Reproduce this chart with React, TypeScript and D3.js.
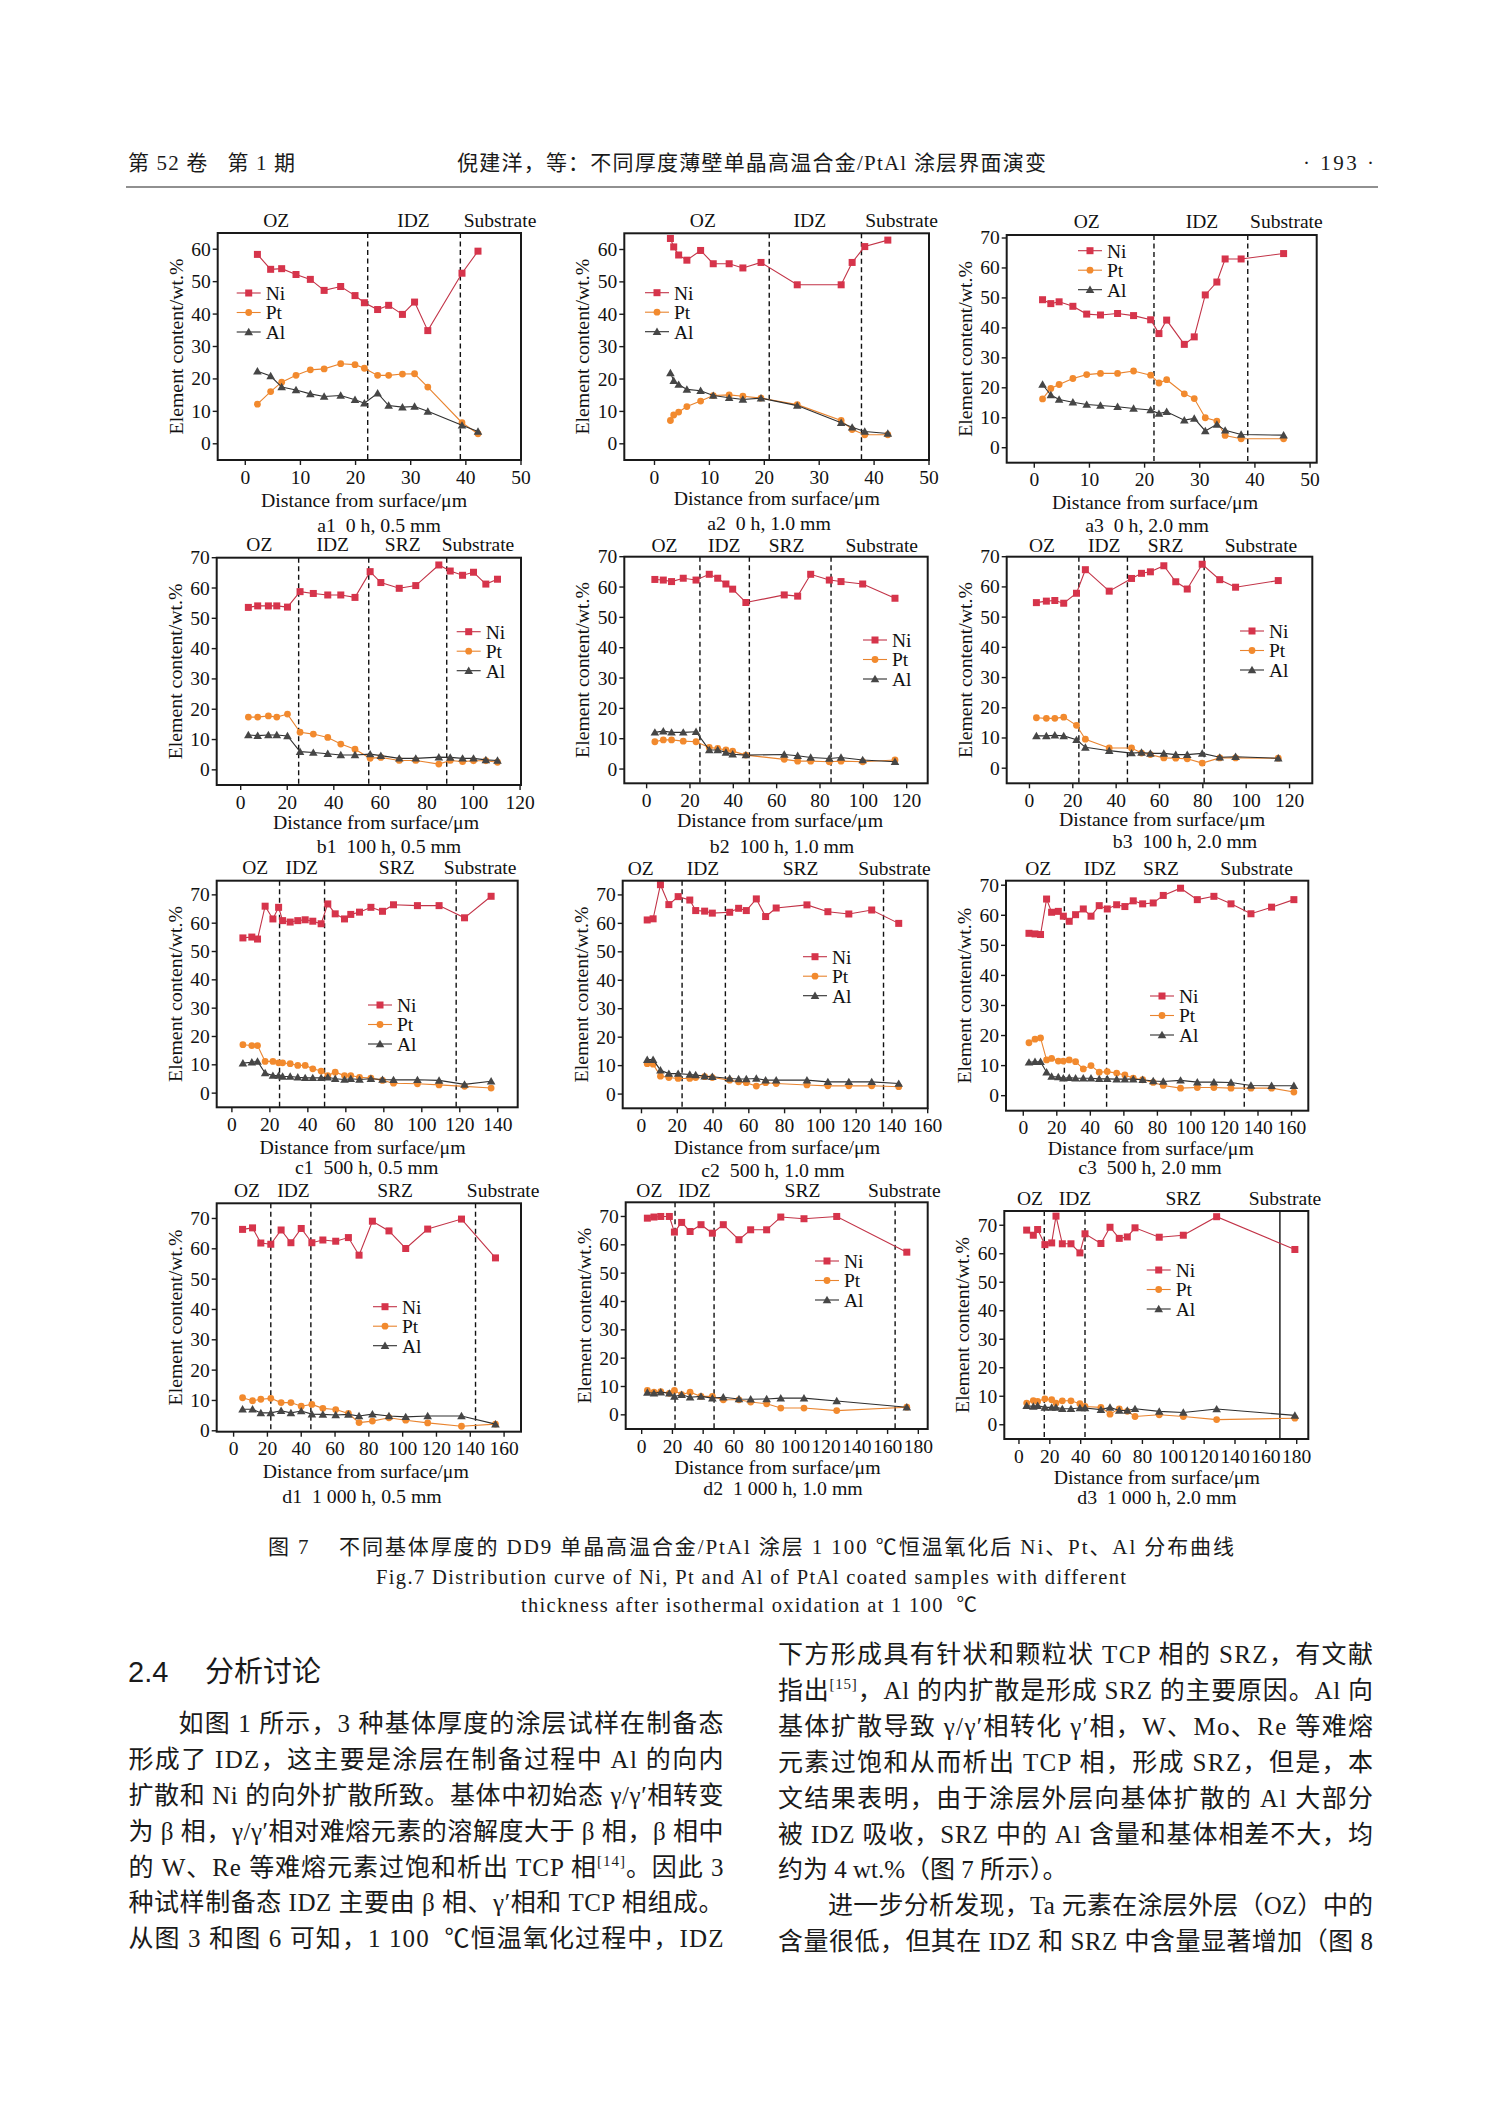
import React from "react";
import * as d3 from "d3";

const SERIF = "'Liberation Serif', 'Times New Roman', serif";
const MIXED = "'Liberation Serif', 'Noto Sans CJK SC', serif";
const HEAD = "'Liberation Sans', 'Noto Sans CJK SC', sans-serif";

// ---- data (distance in µm, content in wt.%) ----
const a1X = [2.2, 4.6, 6.6, 9.2, 11.8, 14.3, 17.3, 19.9, 21.6, 24.0, 26.0, 28.5, 30.7, 33.1, 39.3, 42.2];
const a1Ni = [58.4, 53.8, 54.0, 52.2, 50.7, 47.3, 48.5, 45.7, 43.5, 41.4, 42.7, 39.9, 43.7, 34.9, 52.6, 59.4];
const a1Pt = [12.2, 16.1, 19.0, 21.1, 22.8, 23.1, 24.7, 24.4, 23.3, 21.1, 21.1, 21.5, 21.6, 17.5, 6.5, 3.1];
const a1Al = [22.4, 20.9, 17.5, 16.6, 15.4, 14.6, 14.9, 13.6, 12.5, 15.6, 11.8, 11.3, 11.5, 10.0, 5.7, 3.8];
const a1Bounds = [22.2, 39.0];

const a2X = [2.9, 3.5, 4.4, 5.9, 8.4, 10.7, 13.6, 16.1, 19.4, 26.0, 34.0, 36.0, 38.3, 42.5];
const a2Ni = [63.4, 60.8, 58.3, 56.7, 59.7, 55.6, 55.6, 54.3, 56.0, 49.1, 49.1, 56.0, 60.9, 62.9];
const a2Pt = [7.2, 8.9, 9.8, 11.5, 13.2, 14.9, 15.1, 14.7, 14.1, 12.1, 7.2, 4.4, 2.8, 2.8];
const a2Al = [21.9, 19.5, 18.3, 16.8, 16.4, 14.9, 14.2, 13.7, 14.1, 11.8, 6.5, 5.1, 3.8, 3.2];
const a2Bounds = [20.9, 37.7];

const a3X = [1.5, 3.0, 4.5, 7.0, 9.5, 12.0, 15.1, 18.0, 21.1, 22.6, 24.0, 27.2, 29.0, 31.0, 33.1, 34.6, 37.5, 45.2];
const a3Ni = [49.4, 48.1, 48.7, 47.2, 44.6, 44.3, 44.8, 44.1, 42.7, 38.1, 42.6, 34.5, 37.0, 51.0, 55.3, 63.0, 63.0, 64.8];
const a3Pt = [16.3, 19.8, 21.1, 23.1, 24.4, 24.8, 24.8, 25.6, 24.2, 21.6, 22.7, 18.0, 16.4, 10.0, 8.9, 4.1, 3.0, 3.0];
const a3Al = [21.1, 17.6, 16.1, 15.2, 14.4, 14.1, 13.7, 13.1, 12.6, 11.4, 12.0, 9.2, 9.8, 5.6, 7.8, 5.8, 4.4, 4.2];
const a3Bounds = [21.7, 38.7];

const b1X = [3.3, 7.3, 11.9, 15.5, 20.1, 25.5, 31.2, 37.4, 43.0, 49.1, 55.6, 60.2, 68.1, 75.2, 85.1, 90.0, 95.3, 100.0, 105.3, 110.3];
const b1Ni = [53.6, 54.1, 54.1, 54.1, 53.7, 58.8, 58.2, 57.7, 57.7, 56.9, 65.4, 61.8, 59.9, 60.8, 67.6, 65.6, 64.2, 65.2, 61.3, 62.9];
const b1Pt = [17.4, 17.4, 17.8, 17.4, 18.4, 12.4, 11.8, 10.7, 8.5, 6.8, 3.8, 4.1, 3.1, 3.1, 1.9, 3.1, 2.7, 3.0, 3.0, 2.5];
const b1Al = [11.5, 11.3, 11.5, 11.5, 11.2, 6.0, 5.7, 5.3, 4.9, 4.9, 5.2, 4.7, 3.8, 3.8, 4.2, 4.1, 3.8, 3.8, 3.3, 3.1];
const b1Bounds = [24.9, 55.0, 88.5];

const b2X = [3.8, 7.7, 11.5, 16.9, 22.8, 28.9, 32.8, 36.6, 39.7, 45.8, 63.5, 69.7, 75.7, 84.3, 89.7, 99.7, 114.6];
const b2Ni = [62.5, 62.3, 61.8, 62.9, 62.3, 64.2, 62.9, 61.0, 59.3, 54.9, 57.4, 57.0, 64.2, 62.3, 61.8, 61.0, 56.3];
const b2Pt = [9.0, 9.6, 9.6, 9.2, 9.0, 7.1, 6.8, 6.3, 5.9, 4.6, 3.2, 2.6, 2.6, 2.4, 2.6, 2.4, 3.0];
const b2Al = [12.1, 12.5, 12.1, 12.1, 12.3, 6.3, 6.3, 5.5, 4.9, 4.6, 4.8, 4.4, 3.8, 3.5, 3.8, 3.0, 2.4];
const b2Bounds = [24.6, 47.4, 85.1];

const b3X = [3.2, 7.8, 11.7, 15.8, 21.7, 25.8, 36.8, 47.1, 51.7, 55.8, 62.0, 67.5, 72.8, 79.7, 87.8, 95.1, 114.8];
const b3Ni = [54.8, 55.3, 55.5, 54.6, 57.9, 65.7, 58.6, 62.8, 64.5, 65.0, 67.0, 61.7, 59.3, 67.5, 62.4, 59.9, 62.1];
const b3Pt = [16.7, 16.5, 16.5, 16.9, 14.2, 9.6, 6.7, 6.7, 5.0, 4.5, 3.4, 3.3, 3.1, 1.7, 3.4, 3.4, 3.3];
const b3Al = [10.7, 10.7, 10.9, 10.7, 9.4, 6.9, 5.8, 5.0, 5.2, 4.9, 4.9, 4.5, 4.5, 4.9, 3.6, 3.8, 3.3];
const b3Bounds = [22.8, 45.2, 80.6];

const c1X = [5.8, 10.5, 13.5, 17.5, 21.6, 24.6, 26.7, 30.7, 34.7, 38.6, 42.6, 47.0, 50.5, 54.4, 59.3, 62.6, 67.2, 73.2, 79.3, 85.1, 97.7, 109.1, 122.5, 136.5];
const c1Ni = [54.8, 55.1, 54.4, 66.0, 61.5, 65.6, 60.9, 60.4, 60.9, 61.2, 60.7, 59.8, 66.8, 63.3, 61.5, 63.1, 63.9, 65.6, 64.2, 66.5, 66.2, 66.2, 61.9, 69.5];
const c1Pt = [17.1, 16.8, 16.8, 11.2, 11.2, 10.7, 10.7, 10.4, 9.8, 9.8, 8.6, 7.8, 6.2, 7.4, 6.2, 6.2, 5.6, 5.3, 4.5, 3.5, 3.3, 2.9, 2.4, 1.8];
const c1Al = [10.6, 10.9, 11.2, 7.1, 6.2, 6.2, 5.9, 5.9, 5.6, 5.4, 5.4, 5.4, 5.6, 5.1, 4.8, 5.1, 4.8, 5.1, 4.8, 4.7, 4.7, 4.5, 3.1, 4.2];
const c1Bounds = [25.1, 48.8, 118.1];

const c2X = [3.2, 6.5, 10.6, 15.3, 20.5, 27.0, 30.3, 35.3, 39.6, 49.3, 54.3, 58.6, 64.2, 69.4, 75.3, 92.5, 104.2, 115.9, 128.7, 143.8];
const c2Ni = [61.2, 61.6, 73.6, 66.6, 69.4, 68.2, 64.5, 64.3, 63.6, 63.9, 65.3, 64.5, 68.6, 62.4, 65.4, 66.5, 64.1, 63.3, 64.7, 60.0];
const c2Pt = [10.7, 10.5, 6.3, 5.8, 5.5, 5.5, 5.8, 6.1, 5.8, 4.9, 4.3, 4.0, 2.8, 4.0, 3.7, 3.2, 2.9, 2.9, 2.9, 2.6];
const c2Al = [12.1, 12.1, 8.4, 7.2, 7.2, 6.9, 6.7, 6.3, 6.1, 5.5, 5.3, 5.3, 5.5, 4.9, 4.9, 4.9, 4.3, 4.3, 4.3, 3.7];
const c2Bounds = [22.7, 46.9, 135.3];

const c3X = [3.4, 7.0, 10.3, 13.9, 16.9, 20.9, 23.9, 27.4, 31.2, 35.8, 40.4, 45.3, 50.1, 55.7, 60.6, 65.6, 71.2, 77.5, 83.5, 93.8, 103.8, 113.7, 123.9, 135.8, 148.1, 161.4];
const c3Ni = [54.0, 53.8, 53.6, 65.4, 61.0, 61.3, 59.7, 58.0, 60.2, 62.1, 59.7, 63.2, 62.1, 63.5, 62.9, 64.8, 63.8, 64.1, 66.6, 69.0, 65.2, 66.3, 63.8, 60.5, 62.7, 65.2];
const c3Pt = [17.6, 18.8, 19.2, 11.9, 12.4, 11.5, 11.5, 11.9, 11.3, 8.9, 10.0, 7.8, 8.0, 7.5, 6.9, 5.8, 5.3, 4.4, 3.4, 2.5, 2.7, 2.7, 2.5, 2.5, 2.5, 1.2];
const c3Al = [11.1, 11.3, 11.3, 7.8, 6.4, 6.2, 5.8, 6.0, 5.8, 5.8, 5.8, 5.6, 5.6, 5.5, 5.5, 5.5, 5.3, 4.9, 4.7, 5.1, 4.5, 4.5, 4.4, 3.4, 3.3, 3.3];
const c3Bounds = [24.5, 49.7, 131.8];

const d1X = [5.3, 11.2, 16.1, 22.0, 28.1, 33.9, 40.0, 46.3, 52.8, 60.4, 67.9, 74.2, 82.1, 91.9, 101.8, 114.8, 134.8, 154.9];
const d1Ni = [66.4, 66.9, 61.9, 61.5, 66.2, 62.0, 66.7, 62.0, 62.9, 62.5, 63.7, 57.9, 69.1, 65.9, 60.1, 66.5, 69.8, 57.0];
const d1Pt = [10.9, 9.9, 10.4, 10.7, 9.3, 9.3, 8.1, 8.7, 7.4, 7.0, 5.7, 2.7, 3.2, 4.3, 3.5, 2.6, 1.5, 2.2];
const d1Al = [7.1, 7.1, 5.9, 5.9, 6.6, 5.9, 6.5, 5.5, 5.4, 5.2, 5.4, 4.9, 5.5, 4.9, 4.6, 4.9, 4.9, 2.2];
const d1Bounds = [22.0, 45.7, 143.1];

const d2X = [3.7, 8.0, 12.4, 18.0, 21.3, 26.0, 31.5, 38.6, 46.0, 53.1, 63.3, 70.9, 81.3, 90.5, 105.6, 126.9, 172.5];
const d2Ni = [69.4, 69.8, 70.0, 70.0, 64.5, 67.9, 64.7, 67.1, 64.1, 67.1, 61.8, 65.3, 65.3, 69.8, 69.2, 70.0, 57.4];
const d2Pt = [8.6, 8.0, 8.2, 7.6, 8.6, 7.1, 8.0, 6.5, 6.5, 5.3, 5.3, 4.5, 3.9, 2.4, 2.4, 1.5, 2.7];
const d2Al = [7.9, 7.6, 8.0, 7.6, 6.5, 7.1, 6.2, 6.5, 5.9, 6.2, 5.6, 5.5, 5.6, 5.9, 5.9, 4.9, 2.7];
const d2Bounds = [21.7, 47.1, 164.9];

const d3X = [5.0, 9.3, 12.1, 16.8, 21.2, 24.0, 28.1, 33.7, 39.5, 42.8, 53.1, 59.0, 65.0, 70.2, 75.2, 90.9, 106.5, 128.1, 178.8];
const d3Ni = [68.3, 66.5, 68.5, 63.2, 63.8, 73.2, 63.5, 63.5, 60.3, 67.0, 63.6, 69.3, 65.4, 65.9, 69.1, 65.8, 66.5, 73.0, 61.5];
const d3Pt = [7.6, 8.5, 8.2, 9.1, 8.8, 7.6, 8.4, 8.4, 7.4, 6.4, 6.1, 3.7, 5.6, 4.7, 2.9, 3.5, 2.9, 1.8, 2.3];
const d3Al = [6.7, 6.4, 6.7, 6.1, 6.1, 6.1, 5.6, 5.6, 5.9, 5.9, 5.3, 6.1, 5.0, 5.0, 5.6, 4.7, 4.3, 5.5, 3.3];
const d3Bounds = [16.4, 42.8, 169.1];

// tick labels
const xTicks50 = [0, 10, 20, 30, 40, 50];
const xTicks120 = [0, 20, 40, 60, 80, 100, 120];
const xTicks140 = [0, 20, 40, 60, 80, 100, 120, 140];
const xTicks160 = [0, 20, 40, 60, 80, 100, 120, 140, 160];
const xTicks180 = [0, 20, 40, 60, 80, 100, 120, 140, 160, 180];
const yTicks60 = [0, 10, 20, 30, 40, 50, 60];
const yTicks70 = [0, 10, 20, 30, 40, 50, 60, 70];

const zones3 = ["OZ", "IDZ", "Substrate"];
const zones4 = ["OZ", "IDZ", "SRZ", "Substrate"];
const elements = ["Ni", "Pt", "Al"];

const COLORS: Record<string, { fill: string; line: string }> = {
  Ni: { fill: "#d6344b", line: "#c23347" },
  Pt: { fill: "#f28a2e", line: "#e9842f" },
  Al: { fill: "#464646", line: "#2f2f2f" },
};

type Panel = {
  xs: number[];
  ni: number[];
  pt: number[];
  al: number[];
  bounds: number[];
  solidLast?: boolean;
  box: [number, number, number, number]; // left right top bottom
  xDom: [number, number];
  yDom: [number, number];
  xTicks: number[];
  yTicks: number[];
  zones: string[];
  zoneX: number[];
  zoneY: number;
  legend: [number, number];
  sub: string;
  subPos: [number, number];
  titlePos: [number, number];
};

const panels: Panel[] = [
  { xs: a1X, ni: a1Ni, pt: a1Pt, al: a1Al, bounds: a1Bounds, box: [217.7, 521, 233, 460], xDom: [-5, 50], yDom: [-5, 65], xTicks: xTicks50, yTicks: yTicks60, zones: zones3, zoneX: [5.6, 30.5, 46.2], zoneY: 220, legend: [236.7, 293], sub: "a1  0 h, 0.5 mm", subPos: [379, 525], titlePos: [364, 500] },
  { xs: a2X, ni: a2Ni, pt: a2Pt, al: a2Al, bounds: a2Bounds, box: [624.3, 929, 233.3, 460], xDom: [-5.5, 50], yDom: [-5, 65], xTicks: xTicks50, yTicks: yTicks60, zones: zones3, zoneX: [8.8, 28.3, 45.0], zoneY: 220, legend: [645, 292.7], sub: "a2  0 h, 1.0 mm", subPos: [769, 523], titlePos: [776.7, 498] },
  { xs: a3X, ni: a3Ni, pt: a3Pt, al: a3Al, bounds: a3Bounds, box: [1006.7, 1316.7, 235, 462.7], xDom: [-5, 51.2], yDom: [-5, 71], xTicks: xTicks50, yTicks: yTicks70, zones: zones3, zoneX: [9.5, 30.4, 45.7], zoneY: 221, legend: [1078, 250.7], sub: "a3  0 h, 2.0 mm", subPos: [1147, 525], titlePos: [1155, 501.7] },
  { xs: b1X, ni: b1Ni, pt: b1Pt, al: b1Al, bounds: b1Bounds, box: [216.7, 521, 557.7, 785], xDom: [-10.3, 120.4], yDom: [-5, 70], xTicks: xTicks120, yTicks: yTicks70, zones: zones4, zoneX: [8.0, 39.5, 69.6, 101.9], zoneY: 544, legend: [456.7, 631.7], sub: "b1  100 h, 0.5 mm", subPos: [389, 846], titlePos: [376, 822.5] },
  { xs: b2X, ni: b2Ni, pt: b2Pt, al: b2Al, bounds: b2Bounds, box: [624.3, 927.7, 556.7, 783.3], xDom: [-10.3, 129.7], yDom: [-4.7, 70], xTicks: xTicks120, yTicks: yTicks70, zones: zones4, zoneX: [8.2, 35.8, 64.6, 108.5], zoneY: 545, legend: [863, 640], sub: "b2  100 h, 1.0 mm", subPos: [782, 846], titlePos: [780, 820] },
  { xs: b3X, ni: b3Ni, pt: b3Pt, al: b3Al, bounds: b3Bounds, box: [1006.7, 1312.3, 556.7, 783.3], xDom: [-10.5, 130.5], yDom: [-5, 70], xTicks: xTicks120, yTicks: yTicks70, zones: zones4, zoneX: [5.8, 34.5, 62.8, 106.8], zoneY: 545, legend: [1240, 631], sub: "b3  100 h, 2.0 mm", subPos: [1185, 841], titlePos: [1162, 819] },
  { xs: c1X, ni: c1Ni, pt: c1Pt, al: c1Al, bounds: c1Bounds, box: [216.7, 517.7, 880.7, 1107.3], xDom: [-8, 150.5], yDom: [-5, 75], xTicks: xTicks140, yTicks: yTicks70, zones: zones4, zoneX: [12.3, 36.8, 86.8, 130.7], zoneY: 867, legend: [368, 1005], sub: "c1  500 h, 0.5 mm", subPos: [366.7, 1167], titlePos: [362.5, 1147] },
  { xs: c2X, ni: c2Ni, pt: c2Pt, al: c2Al, bounds: c2Bounds, box: [622.7, 927.7, 880.7, 1108.3], xDom: [-10.5, 160], yDom: [-5, 75], xTicks: xTicks160, yTicks: yTicks70, zones: zones4, zoneX: [-0.4, 34.4, 88.9, 141.4], zoneY: 868, legend: [803, 956.7], sub: "c2  500 h, 1.0 mm", subPos: [773, 1170], titlePos: [777, 1147] },
  { xs: c3X, ni: c3Ni, pt: c3Pt, al: c3Al, bounds: c3Bounds, box: [1006, 1308.3, 880.7, 1110.7], xDom: [-10.3, 170], yDom: [-5, 71.5], xTicks: xTicks160, yTicks: yTicks70, zones: zones4, zoneX: [8.9, 45.7, 82.1, 139.2], zoneY: 868.5, legend: [1150, 996], sub: "c3  500 h, 2.0 mm", subPos: [1150, 1167], titlePos: [1150.7, 1148] },
  { xs: d1X, ni: d1Ni, pt: d1Pt, al: d1Al, bounds: d1Bounds, box: [216.7, 521, 1203.3, 1431.7], xDom: [-10, 170], yDom: [-0.3, 75], xTicks: xTicks160, yTicks: yTicks70, zones: zones4, zoneX: [7.9, 35.4, 95.5, 159.4], zoneY: 1190, legend: [373, 1306.7], sub: "d1  1 000 h, 0.5 mm", subPos: [362, 1496], titlePos: [365.8, 1471] },
  { xs: d2X, ni: d2Ni, pt: d2Pt, al: d2Al, bounds: d2Bounds, box: [625.7, 927.7, 1202.3, 1429], xDom: [-10.4, 186.1], yDom: [-5, 75], xTicks: xTicks180, yTicks: yTicks70, zones: zones4, zoneX: [5.0, 34.3, 104.6, 170.9], zoneY: 1190, legend: [815, 1261], sub: "d2  1 000 h, 1.0 mm", subPos: [783, 1488], titlePos: [777.5, 1467.5] },
  { xs: d3X, ni: d3Ni, pt: d3Pt, al: d3Al, bounds: d3Bounds, solidLast: true, box: [1004.3, 1308.3, 1211, 1439], xDom: [-9.5, 187.5], yDom: [-5, 75], xTicks: xTicks180, yTicks: yTicks70, zones: zones4, zoneX: [7.1, 36.3, 106.5, 172.4], zoneY: 1198.5, legend: [1146.7, 1270], sub: "d3  1 000 h, 2.0 mm", subPos: [1157, 1497.5], titlePos: [1156.7, 1477] },
];

const triangle = d3.symbol().type(d3.symbolTriangle).size(32)() || "";

function Marker({ el, x, y }: { el: string; x: number; y: number }) {
  const c = COLORS[el].fill;
  if (el === "Ni") return <rect x={x - 3.5} y={y - 3.5} width={7} height={7} fill={c} />;
  if (el === "Pt") return <circle cx={x} cy={y} r={3.4} fill={c} />;
  return <path d={triangle} transform={`translate(${x},${y + 0.8})`} fill={c} />;
}

function Chart({ p }: { p: Panel }) {
  const [left, right, top, bottom] = p.box;
  const x = d3.scaleLinear().domain(p.xDom).range([left, right]);
  const y = d3.scaleLinear().domain(p.yDom).range([bottom, top]);
  const line = d3.line<[number, number]>();
  const series: Record<string, number[]> = { Ni: p.ni, Pt: p.pt, Al: p.al };
  const fs = 19.5;
  return (
    <g fontFamily={SERIF} fill="#111">
      {p.bounds.map((b, i) => (
        <line key={i} x1={x(b)} x2={x(b)} y1={top} y2={bottom} stroke="#111" strokeWidth={1.4}
          strokeDasharray={p.solidLast && i === p.bounds.length - 1 ? undefined : "5,3.5"} />
      ))}
      {elements.map((el) => {
        const pts = p.xs.map((d, i) => [x(d), y(series[el][i])] as [number, number]);
        return (
          <g key={el}>
            <path d={line(pts) || ""} fill="none" stroke={COLORS[el].line} strokeWidth={1.1} />
            {pts.map((q, i) => <Marker key={i} el={el} x={q[0]} y={q[1]} />)}
          </g>
        );
      })}
      <rect x={left} y={top} width={right - left} height={bottom - top} fill="none" stroke="#1a1a1a" strokeWidth={2} />
      {p.xTicks.map((t) => (
        <g key={t}>
          <line x1={x(t)} x2={x(t)} y1={bottom} y2={bottom + 5} stroke="#1a1a1a" strokeWidth={1.4} />
          <text x={x(t)} y={bottom + 23.5} fontSize={fs} textAnchor="middle">{t}</text>
        </g>
      ))}
      {p.yTicks.map((t) => (
        <g key={t}>
          <line x1={left - 5} x2={left} y1={y(t)} y2={y(t)} stroke="#1a1a1a" strokeWidth={1.4} />
          <text x={left - 7} y={y(t) + 6.5} fontSize={fs} textAnchor="end">{t}</text>
        </g>
      ))}
      <text transform={`translate(${left - 42},${(top + bottom) / 2}) rotate(-90)`} fontSize={19.8} textAnchor="middle" dy="0.35em">
        Element content/wt.%
      </text>
      <text x={p.titlePos[0]} y={p.titlePos[1]} dy="0.35em" fontSize={19.8} textAnchor="middle">
        Distance from surface/μm
      </text>
      <text x={p.subPos[0]} y={p.subPos[1]} dy="0.35em" fontSize={19.8} textAnchor="middle" style={{ whiteSpace: "pre" }}>
        {p.sub}
      </text>
      {p.zones.map((z, i) => (
        <text key={z} x={x(p.zoneX[i])} y={p.zoneY} dy="0.35em" fontSize={19.5} textAnchor="middle">{z}</text>
      ))}
      {elements.map((el, i) => {
        const ly = p.legend[1] + i * 19.5;
        const lx = p.legend[0];
        return (
          <g key={el}>
            <line x1={lx} x2={lx + 24} y1={ly} y2={ly} stroke={COLORS[el].line} strokeWidth={1.1} />
            <Marker el={el} x={lx + 12} y={ly} />
            <text x={lx + 29} y={ly} dy="0.35em" fontSize={19.5}>{el}</text>
          </g>
        );
      })}
    </g>
  );
}

const BODY = 25;
const LEFT_X = 128.5;
const LEFT_END = 723.5;
const RIGHT_X = 778;
const RIGHT_END = 1373;

function BodyLine({ x, end, y, justify = true, children }: { x: number; end: number; y: number; justify?: boolean; children: React.ReactNode }) {
  return (
    <text x={x} y={y + 9} fontSize={BODY} fontFamily={MIXED} fill="#1a1a1a" style={{ whiteSpace: "pre" }}
      textLength={justify ? end - x : undefined} lengthAdjust="spacing">
      {children}
    </text>
  );
}

const Sup = ({ t, after }: { t: string; after: string }) => (
  <>
    <tspan fontSize={15} dy={-10}>{t}</tspan>
    <tspan dy={10}>{after}</tspan>
  </>
);

export default function App() {
  const lh = [1723, 1759, 1795, 1831, 1867, 1902, 1938];
  const rh = [1654, 1690, 1726, 1762, 1798, 1834, 1869, 1905, 1941];
  return (
    <svg width={1489} height={2106} viewBox="0 0 1489 2106" style={{ position: "absolute", left: 0, top: 0, background: "#fff" }}>
      <rect width={1489} height={2106} fill="#fff" />
      {/* running head */}
      <g fontFamily={MIXED} fontSize={21} fill="#1a1a1a">
        <text x={128} y={170} textLength={167} lengthAdjust="spacing" style={{ whiteSpace: "pre" }}>第 52 卷   第 1 期</text>
        <text x={457} y={170} textLength={589} lengthAdjust="spacing">倪建洋，等：不同厚度薄壁单晶高温合金/PtAl 涂层界面演变</text>
        <text x={1303} y={170} textLength={71} lengthAdjust="spacing">· 193 ·</text>
      </g>
      <line x1={126} x2={1378} y1={187} y2={187} stroke="#222" strokeWidth={1.2} />

      {panels.map((p, i) => <Chart key={i} p={p} />)}

      {/* caption */}
      <g fill="#1a1a1a" textAnchor="start">
        <text x={268} y={1554} fontFamily={MIXED} fontSize={21} textLength={966} lengthAdjust="spacing" style={{ whiteSpace: "pre" }}>
          图 7    不同基体厚度的 DD9 单晶高温合金/PtAl 涂层 1 100 ℃恒温氧化后 Ni、Pt、Al 分布曲线
        </text>
        <text x={376} y={1584} fontFamily={SERIF} fontSize={20.5} textLength={750} lengthAdjust="spacing">
          Fig.7 Distribution curve of Ni, Pt and Al of PtAl coated samples with different
        </text>
        <text x={521} y={1612} fontFamily={MIXED} fontSize={20.5} textLength={456} lengthAdjust="spacing" style={{ whiteSpace: "pre" }}>
          thickness after isothermal oxidation at 1 100  ℃
        </text>
      </g>

      {/* section heading */}
      <g fontFamily={HEAD} fontSize={29} fill="#1a1a1a">
        <text x={128} y={1682}>2.4</text>
        <text x={205} y={1682}>分析讨论</text>
      </g>

      {/* left column */}
      <BodyLine x={LEFT_X + 50} end={LEFT_END} y={lh[0]}>如图 1 所示，3 种基体厚度的涂层试样在制备态</BodyLine>
      <BodyLine x={LEFT_X} end={LEFT_END} y={lh[1]}>形成了 IDZ，这主要是涂层在制备过程中 Al 的向内</BodyLine>
      <BodyLine x={LEFT_X} end={LEFT_END} y={lh[2]}>扩散和 Ni 的向外扩散所致。基体中初始态 γ/γ′相转变</BodyLine>
      <BodyLine x={LEFT_X} end={LEFT_END} y={lh[3]}>为 β 相，γ/γ′相对难熔元素的溶解度大于 β 相，β 相中</BodyLine>
      <BodyLine x={LEFT_X} end={LEFT_END} y={lh[4]}>
        的 W、Re 等难熔元素过饱和析出 TCP 相<Sup t="[14]" after="。因此 3" />
      </BodyLine>
      <BodyLine x={LEFT_X} end={LEFT_END} y={lh[5]}>种试样制备态 IDZ 主要由 β 相、γ′相和 TCP 相组成。</BodyLine>
      <BodyLine x={LEFT_X} end={LEFT_END} y={lh[6]}>从图 3 和图 6 可知，1 100  ℃恒温氧化过程中，IDZ</BodyLine>

      {/* right column */}
      <BodyLine x={RIGHT_X} end={RIGHT_END} y={rh[0]}>下方形成具有针状和颗粒状 TCP 相的 SRZ，有文献</BodyLine>
      <BodyLine x={RIGHT_X} end={RIGHT_END} y={rh[1]}>
        指出<Sup t="[15]" after="，Al 的内扩散是形成 SRZ 的主要原因。Al 向" />
      </BodyLine>
      <BodyLine x={RIGHT_X} end={RIGHT_END} y={rh[2]}>基体扩散导致 γ/γ′相转化 γ′相，W、Mo、Re 等难熔</BodyLine>
      <BodyLine x={RIGHT_X} end={RIGHT_END} y={rh[3]}>元素过饱和从而析出 TCP 相，形成 SRZ，但是，本</BodyLine>
      <BodyLine x={RIGHT_X} end={RIGHT_END} y={rh[4]}>文结果表明，由于涂层外层向基体扩散的 Al 大部分</BodyLine>
      <BodyLine x={RIGHT_X} end={RIGHT_END} y={rh[5]}>被 IDZ 吸收，SRZ 中的 Al 含量和基体相差不大，均</BodyLine>
      <BodyLine x={RIGHT_X} end={RIGHT_END} y={rh[6]} justify={false}>约为 4 wt.%（图 7 所示）。</BodyLine>
      <BodyLine x={RIGHT_X + 50} end={RIGHT_END} y={rh[7]}>进一步分析发现，Ta 元素在涂层外层（OZ）中的</BodyLine>
      <BodyLine x={RIGHT_X} end={RIGHT_END} y={rh[8]}>含量很低，但其在 IDZ 和 SRZ 中含量显著增加（图 8</BodyLine>
    </svg>
  );
}
